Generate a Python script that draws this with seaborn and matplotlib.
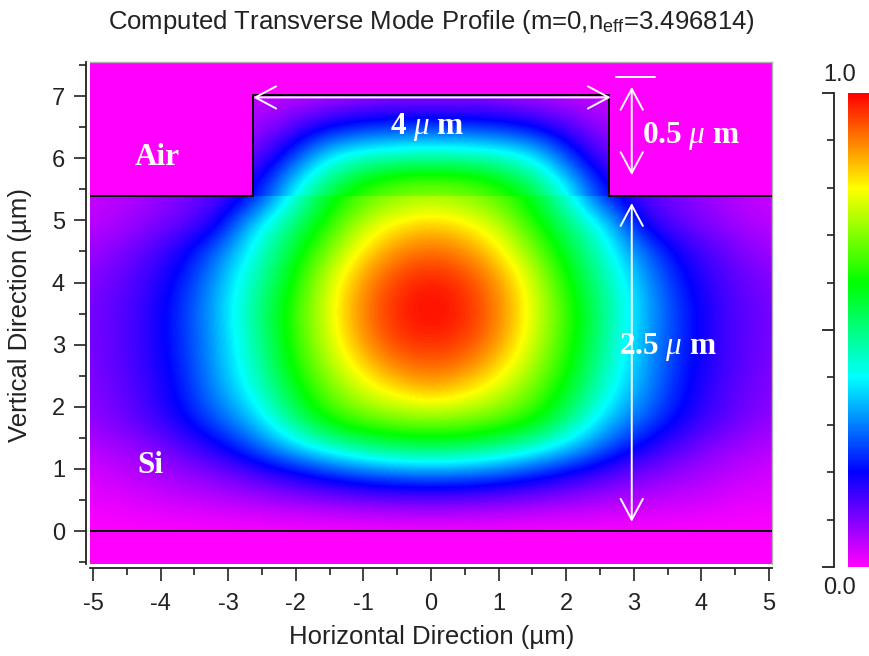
import numpy as np
import matplotlib
matplotlib.use("Agg")
import matplotlib.pyplot as plt
from matplotlib.patches import Rectangle
from matplotlib.ticker import FixedLocator, MultipleLocator
import seaborn as sns

# ---------------- data ----------------
title_text = "Computed Transverse Mode Profile (m=0,n$_{\\mathrm{eff}}$=3.496814)"
x_label = "Horizontal Direction (\u00b5m)"
y_label = "Vertical Direction (\u00b5m)"
x_ticks = [-5, -4, -3, -2, -1, 0, 1, 2, 3, 4, 5]
y_ticks = [0, 1, 2, 3, 4, 5, 6, 7]
cbar_major = [0.0, 0.5, 1.0]
cbar_top_label = "1.0"
cbar_bottom_label = "0.0"
cmap_colors = ["#ff00ff", "#0000ff", "#00ffff", "#00ff00", "#ffff00", "#ff0000"]

# field in the silicon slab (rows: y, columns: x)
x_slab = [-5.30, -4.77, -4.24, -3.71, -3.18, -2.65, -2.12, -1.59, -1.06, -0.53, 0.00,
          0.53, 1.06, 1.59, 2.12, 2.65, 3.18, 3.71, 4.24, 4.77, 5.30]
y_slab = [0.00, 0.45, 0.90, 1.35, 1.80, 2.25, 2.70, 3.15, 3.60, 4.05, 4.50, 4.95, 5.40]
field_slab = [
    [0.00, 0.00, 0.00, 0.00, 0.00, 0.00, 0.00, 0.00, 0.00, 0.00, 0.00, 0.00, 0.00, 0.00, 0.00, 0.00, 0.00, 0.00, 0.00, 0.00, 0.00],
    [0.02, 0.02, 0.03, 0.04, 0.05, 0.06, 0.07, 0.08, 0.09, 0.10, 0.10, 0.10, 0.09, 0.08, 0.07, 0.06, 0.05, 0.04, 0.03, 0.02, 0.02],
    [0.03, 0.04, 0.06, 0.08, 0.10, 0.13, 0.17, 0.21, 0.25, 0.27, 0.28, 0.27, 0.25, 0.21, 0.17, 0.13, 0.10, 0.08, 0.06, 0.04, 0.03],
    [0.05, 0.07, 0.09, 0.13, 0.18, 0.26, 0.35, 0.43, 0.49, 0.53, 0.54, 0.53, 0.49, 0.43, 0.35, 0.26, 0.18, 0.13, 0.09, 0.07, 0.05],
    [0.08, 0.10, 0.14, 0.19, 0.27, 0.35, 0.48, 0.61, 0.67, 0.70, 0.71, 0.70, 0.67, 0.61, 0.48, 0.35, 0.27, 0.19, 0.14, 0.10, 0.08],
    [0.09, 0.11, 0.15, 0.21, 0.31, 0.41, 0.55, 0.67, 0.76, 0.82, 0.86, 0.82, 0.76, 0.67, 0.55, 0.41, 0.31, 0.21, 0.15, 0.11, 0.09],
    [0.09, 0.12, 0.16, 0.22, 0.33, 0.44, 0.59, 0.72, 0.83, 0.91, 0.93, 0.91, 0.83, 0.72, 0.59, 0.44, 0.33, 0.22, 0.16, 0.12, 0.09],
    [0.10, 0.12, 0.16, 0.23, 0.33, 0.46, 0.61, 0.75, 0.88, 0.96, 0.98, 0.96, 0.88, 0.75, 0.61, 0.46, 0.33, 0.23, 0.16, 0.12, 0.10],
    [0.10, 0.12, 0.16, 0.23, 0.34, 0.47, 0.61, 0.76, 0.89, 0.97, 1.00, 0.97, 0.89, 0.76, 0.61, 0.47, 0.34, 0.23, 0.16, 0.12, 0.10],
    [0.09, 0.11, 0.15, 0.21, 0.32, 0.45, 0.58, 0.74, 0.87, 0.95, 0.98, 0.95, 0.87, 0.74, 0.58, 0.45, 0.32, 0.21, 0.15, 0.11, 0.09],
    [0.07, 0.09, 0.13, 0.18, 0.28, 0.41, 0.54, 0.68, 0.81, 0.89, 0.92, 0.89, 0.81, 0.68, 0.54, 0.41, 0.28, 0.18, 0.13, 0.09, 0.07],
    [0.05, 0.06, 0.09, 0.12, 0.17, 0.36, 0.49, 0.61, 0.74, 0.81, 0.84, 0.81, 0.74, 0.61, 0.49, 0.36, 0.17, 0.12, 0.09, 0.06, 0.05],
    [0.04, 0.05, 0.07, 0.10, 0.13, 0.19, 0.38, 0.55, 0.65, 0.70, 0.72, 0.70, 0.65, 0.55, 0.38, 0.19, 0.13, 0.10, 0.07, 0.05, 0.04],
]

# field in the rib
x_rib = [-2.65, -2.12, -1.59, -1.06, -0.53, 0.00, 0.53, 1.06, 1.59, 2.12, 2.65]
y_rib = [5.40, 5.73, 6.06, 6.39, 6.72, 7.05]
field_rib = [
    [0.19, 0.38, 0.55, 0.65, 0.70, 0.72, 0.70, 0.65, 0.55, 0.38, 0.19],
    [0.15, 0.31, 0.46, 0.56, 0.61, 0.62, 0.61, 0.56, 0.46, 0.31, 0.15],
    [0.11, 0.22, 0.37, 0.43, 0.45, 0.46, 0.45, 0.43, 0.37, 0.22, 0.11],
    [0.08, 0.15, 0.24, 0.28, 0.30, 0.30, 0.30, 0.28, 0.24, 0.15, 0.08],
    [0.06, 0.09, 0.13, 0.16, 0.17, 0.17, 0.17, 0.16, 0.13, 0.09, 0.06],
    [0.04, 0.05, 0.06, 0.07, 0.08, 0.08, 0.08, 0.07, 0.06, 0.05, 0.04],
]

# waveguide geometry
x_range = [-5.045, 5.045]
y_range = [-0.53, 7.55]
slab_top = 5.40
rib_left, rib_right, rib_top = -2.64, 2.64, 7.02
outline_x = [-5.045, -2.64, -2.64, 2.64, 2.64, 5.045]
outline_y = [5.40, 5.40, 7.02, 7.02, 5.40, 5.40]
substrate_line_y = 0.0

# annotations (text, x, y)
labels_text = [("Air", -4.05, 6.02), ("Si", -4.15, 1.05),
               ("4 $\\mu$ m", -0.05, 6.5), ("0.5 $\\mu$ m", 3.85, 6.36),
               ("2.5 $\\mu$ m", 3.5, 2.96)]
arrows = [((-2.63, 6.98), (2.66, 6.98)),
          ((2.97, 7.15), (2.97, 5.73)),
          ((2.97, 5.28), (2.97, 0.15))]
cap_line_x = [2.73, 3.32]
cap_line_y = [7.31, 7.31]

# ---------------- style ----------------
sns.set_style("ticks")
plt.rcParams["font.family"] = ["Liberation Sans", "DejaVu Sans"]
plt.rcParams["axes.unicode_minus"] = False
plt.rcParams["mathtext.fontset"] = "custom"
plt.rcParams["mathtext.rm"] = "Liberation Sans"
plt.rcParams["mathtext.it"] = "Liberation Serif:italic"
plt.rcParams["mathtext.bf"] = "Liberation Serif:bold"

cmap = sns.blend_palette(cmap_colors, as_cmap=True)

W, H = 870, 656
fig = plt.figure(figsize=(W / 100, H / 100), dpi=100)
fig.patch.set_facecolor("white")

ax_l, ax_r, ax_t, ax_b = 90, 772, 62, 564
ax = fig.add_axes([ax_l / W, (H - ax_b) / H, (ax_r - ax_l) / W, (ax_b - ax_t) / H])
ax.set_facecolor(cmap(0.0))


def extent_of(xs, ys):
    dx = xs[1] - xs[0]
    dy = ys[1] - ys[0]
    return (xs[0] - dx / 2, xs[-1] + dx / 2, ys[0] - dy / 2, ys[-1] + dy / 2)


im_slab = ax.imshow(np.array(field_slab), origin="lower", extent=extent_of(x_slab, y_slab),
                    cmap=cmap, vmin=0, vmax=1, aspect="auto",
                    interpolation="bicubic", interpolation_stage="data", zorder=1)
im_slab.set_clip_path(Rectangle((x_range[0], 0.0), x_range[1] - x_range[0], slab_top,
                                transform=ax.transData))
im_rib = ax.imshow(np.array(field_rib), origin="lower", extent=extent_of(x_rib, y_rib),
                   cmap=cmap, vmin=0, vmax=1, aspect="auto",
                   interpolation="bicubic", interpolation_stage="data", zorder=1)
im_rib.set_clip_path(Rectangle((rib_left, slab_top), rib_right - rib_left, rib_top - slab_top,
                               transform=ax.transData))

# structure lines
ax.plot(outline_x, outline_y, color="black", lw=1.4, zorder=3)
ax.axhline(substrate_line_y, color="black", lw=1.4, zorder=3)

# arrows and labels
for (p0, p1) in arrows:
    ax.annotate("", xy=p1, xytext=p0,
                arrowprops=dict(arrowstyle="<->,head_length=0.75,head_width=0.4",
                                color="white", lw=1.4, shrinkA=0, shrinkB=0,
                                mutation_scale=20), zorder=4)
ax.plot(cap_line_x, cap_line_y, color="white", lw=1.4, zorder=4)
for (t, x, y) in labels_text:
    ax.text(x, y, t, color="white", fontsize=22.5, fontweight="bold",
            family=["Liberation Serif", "DejaVu Serif"], ha="center", va="center", zorder=5)

ax.set_xlim(*x_range)
ax.set_ylim(*y_range)
ax.set_xticks(x_ticks)
ax.set_yticks(y_ticks)
ax.xaxis.set_minor_locator(MultipleLocator(0.5))
ax.yaxis.set_minor_locator(MultipleLocator(0.5))
ax.tick_params(axis="both", which="major", length=9, width=1.2, color="#222222",
               labelsize=17, labelcolor="#222222")
ax.tick_params(axis="x", which="major", pad=9)
ax.tick_params(axis="y", which="major", pad=6)
ax.tick_params(axis="both", which="minor", length=5, width=1.2, color="#222222")
for s in ["left", "bottom"]:
    ax.spines[s].set_position(("outward", 3))
    ax.spines[s].set_color("#222222")
    ax.spines[s].set_linewidth(1.3)
for s in ["top", "right"]:
    ax.spines[s].set_visible(True)
    ax.spines[s].set_color("#b0b0b0")
    ax.spines[s].set_linewidth(1.0)

ax.set_xlabel(x_label, fontsize=18.5, color="#222222", va="center")
ax.xaxis.set_label_coords((432 - ax_l) / (ax_r - ax_l), (ax_b - 637) / (ax_b - ax_t))
ax.set_ylabel(y_label, fontsize=18.5, color="#222222", va="center")
ax.yaxis.set_label_coords((20 - ax_l) / (ax_r - ax_l), (ax_b - 315) / (ax_b - ax_t))
ax.set_title(title_text, fontsize=18.5, color="#222222", va="center", pad=0,
             y=(ax_b - 22) / (ax_b - ax_t))

# colorbar (gradient strip, partly outside the figure as in the reference)
cb_top, cb_bot = 93, 567
cax = fig.add_axes([848 / W, (H - cb_bot) / H, 60 / W, (cb_bot - cb_top) / H])
cb = fig.colorbar(im_slab, cax=cax)
cb.outline.set_visible(False)
cb.set_ticks([])

# colorbar tick axis
tax = fig.add_axes([834 / W, (H - cb_bot) / H, 0.0005, (cb_bot - cb_top) / H])
tax.set_ylim(0, 1)
tax.patch.set_visible(False)
for s in ["top", "right", "bottom"]:
    tax.spines[s].set_visible(False)
tax.spines["left"].set_color("#222222")
tax.spines["left"].set_linewidth(1.3)
tax.set_xticks([])
tax.yaxis.set_major_locator(FixedLocator(cbar_major))
tax.yaxis.set_minor_locator(MultipleLocator(0.1))
tax.tick_params(axis="y", which="major", length=9, width=1.3, color="#222222", labelleft=False)
tax.tick_params(axis="y", which="minor", length=5, width=1.2, color="#222222")
fig.text(840 / W, 1 - 75 / H, cbar_top_label, fontsize=17, color="#222222", ha="center", va="center")
fig.text(840 / W, 1 - 588 / H, cbar_bottom_label, fontsize=17, color="#222222", ha="center", va="center")

fig.savefig("out.png", dpi=100)
